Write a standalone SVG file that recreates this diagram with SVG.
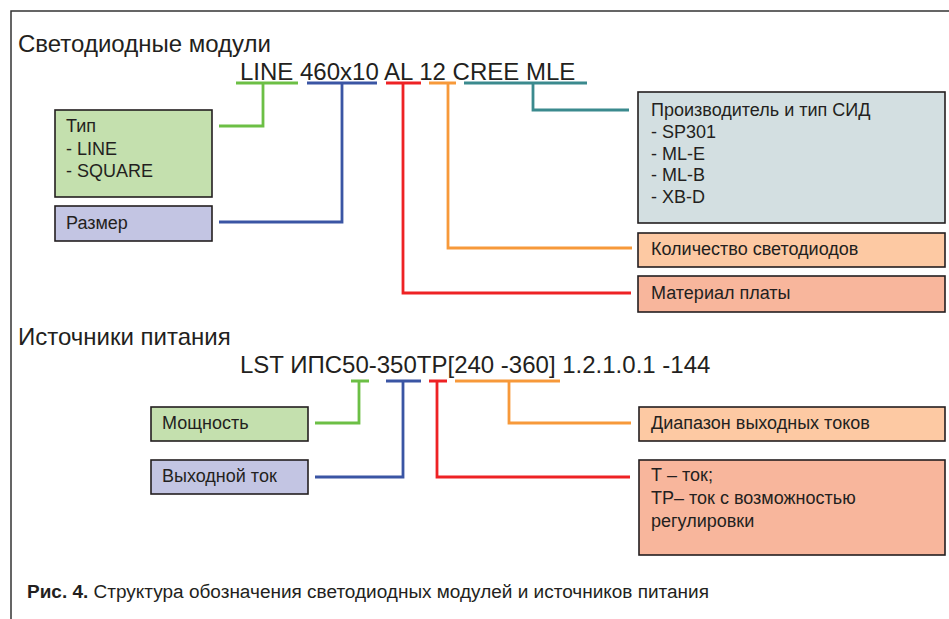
<svg xmlns="http://www.w3.org/2000/svg" width="949" height="619" viewBox="0 0 949 619">
<style>
text{font-family:"Liberation Sans",Arial,sans-serif;fill:#231f20}
.h{font-size:24px}
.code{font-size:24px}
.t{font-size:18px}
.box{stroke:#231f20;stroke-width:1.6}
.c{fill:none;stroke-width:2.8;stroke-linejoin:miter;stroke-linecap:butt}
.g{stroke:#6cbf45}.b{stroke:#3a55a4}.r{stroke:#ee2224}.o{stroke:#f7993a}.tl{stroke:#3b8a8e}
</style>
<rect width="949" height="619" fill="#fff"/>
<path d="M11 619 V11 H949" fill="none" stroke="#333" stroke-width="1.5"/>

<text class="h" x="18" y="52">Светодиодные модули</text>
<text class="code" x="240" y="80">LINE 460x10 AL 12 CREE MLE</text>
<text class="h" x="18" y="345">Источники питания</text>
<text class="code" x="240" y="373">LST ИПС50-350ТР[240 -360] 1.2.1.0.1 -144</text>

<g id="connectors">
  <path class="c g" d="M236 83 H298 M263 83 V126 H219"/>
  <path class="c b" d="M307 83 H377 M342 83 V222 H219"/>
  <path class="c r" d="M386 83 H421 M403 83 V293 H631"/>
  <path class="c o" d="M429 83 H456 M448 83 V248 H632"/>
  <path class="c tl" d="M464 83 H587 M533 83 V110 H629"/>
  <path class="c g" d="M351 381 H369 M359 381 V423 H315"/>
  <path class="c b" d="M386 381 H421 M403 381 V477 H315"/>
  <path class="c r" d="M429 381 H447 M437 381 V477 H630"/>
  <path class="c o" d="M455 381 H560 M509 381 V423 H631"/>
</g>

<g id="node-type">
  <rect class="box" x="55" y="110" width="157" height="87" fill="#c4e0ae"/>
  <text class="t" x="66" y="132">Тип</text>
  <text class="t" x="66" y="155">- LINE</text>
  <text class="t" x="66" y="177">- SQUARE</text>
</g>
<g id="node-size">
  <rect class="box" x="55" y="206" width="157" height="35" fill="#c3c5e3"/>
  <text class="t" x="66" y="229">Размер</text>
</g>
<g id="node-maker">
  <rect class="box" x="638" y="92" width="307" height="131" fill="#d3dfe1"/>
  <text class="t" x="651" y="116">Производитель и тип СИД</text>
  <text class="t" x="651" y="138">- SP301</text>
  <text class="t" x="651" y="160">- ML-E</text>
  <text class="t" x="651" y="181">- ML-B</text>
  <text class="t" x="651" y="203">- XB-D</text>
</g>
<g id="node-count">
  <rect class="box" x="638" y="233" width="307" height="34" fill="#fdc9a3"/>
  <text class="t" x="651" y="255">Количество светодиодов</text>
</g>
<g id="node-material">
  <rect class="box" x="638" y="276" width="307" height="36" fill="#f8b69c"/>
  <text class="t" x="651" y="299">Материал платы</text>
</g>
<g id="node-power">
  <rect class="box" x="151" y="407" width="157" height="34" fill="#c4e0ae"/>
  <text class="t" x="162" y="429">Мощность</text>
</g>
<g id="node-current">
  <rect class="box" x="151" y="460" width="157" height="34" fill="#c3c5e3"/>
  <text class="t" x="162" y="482">Выходной ток</text>
</g>
<g id="node-range">
  <rect class="box" x="639" y="407" width="306" height="34" fill="#fdc9a3"/>
  <text class="t" x="651" y="429">Диапазон выходных токов</text>
</g>
<g id="node-tp">
  <rect class="box" x="639" y="460" width="306" height="95" fill="#f8b69c"/>
  <text class="t" x="651" y="481">Т – ток;</text>
  <text class="t" x="651" y="504">ТР– ток с возможностью</text>
  <text class="t" x="651" y="527">регулировки</text>
</g>

<text x="27" y="598" font-size="18" textLength="682" lengthAdjust="spacingAndGlyphs"><tspan font-weight="bold">Рис. 4.</tspan> Структура обозначения светодиодных модулей и источников питания</text>
</svg>
